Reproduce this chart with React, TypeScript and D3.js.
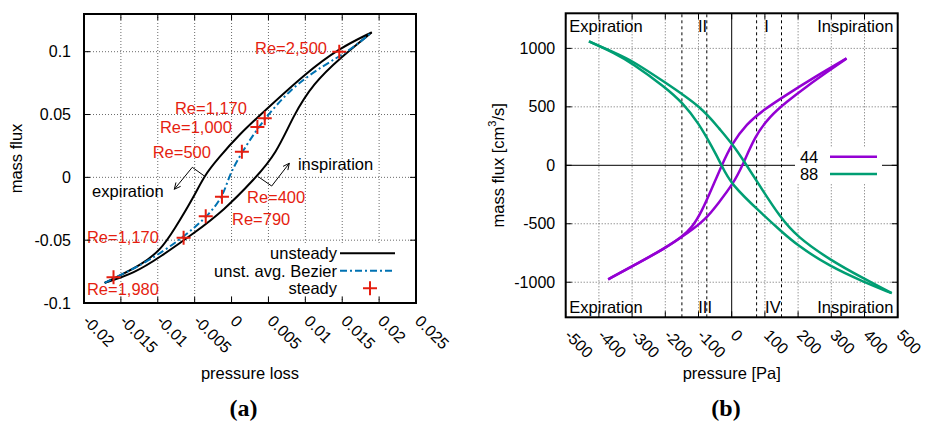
import React from 'react';
import * as d3 from 'd3';

// ---------- Panel (a) data ----------
const aXTicks = [-0.02, -0.015, -0.01, -0.005, 0, 0.005, 0.01, 0.015, 0.02, 0.025];
const aXTickLabels = ['-0.02', '-0.015', '-0.01', '-0.005', '0', '0.005', '0.01', '0.015', '0.02', '0.025'];
const aYTicks = [-0.1, -0.05, 0, 0.05, 0.1];
const aYTickLabels = ['-0.1', '-0.05', '0', '0.05', '0.1'];

const expirationX = [-0.0172, -0.015, -0.0123, -0.0096, -0.0078, -0.0051, -0.0037, -0.0019, 0.0011, 0.0045, 0.0102, 0.0146, 0.019];
const expirationY = [-0.084, -0.0777, -0.0698, -0.0578, -0.0419, -0.0154, 0.0013, 0.0146, 0.0345, 0.053, 0.0836, 0.1027, 0.1154];
const inspirationX = [-0.0172, -0.0132, -0.0096, -0.0051, -0.001, 0.003, 0.0061, 0.0084, 0.0111, 0.0147, 0.019];
const inspirationY = [-0.084, -0.0764, -0.0631, -0.0445, -0.026, -0.0021, 0.0191, 0.0496, 0.0748, 0.095, 0.1154];
const bezierX = [-0.0172, -0.0146, -0.011, -0.0064, -0.0028, -0.001, -0.0003, 0.0014, 0.0039, 0.0079, 0.0124, 0.016, 0.019];
const bezierY = [-0.084, -0.0764, -0.0658, -0.0472, -0.0286, -0.0127, 0.002, 0.02, 0.0425, 0.0703, 0.089, 0.1008, 0.1154];

const steadyX = [0.0146, 0.0045, 0.0035, 0.0014, -0.0013, -0.0035, -0.0065, -0.016];
const steadyY = [0.1, 0.047, 0.04, 0.0204, -0.0155, -0.031, -0.048, -0.0795];
const steadyLabels = ['Re=2,500', 'Re=1,170', 'Re=1,000', 'Re=500', 'Re=400', 'Re=790', 'Re=1,170', 'Re=1,980'];
const steadyLabelX = [0.01294, 0.00209, 0.00006, -0.00279, 0.00209, 0.00006, -0.0196, -0.0196];
const steadyLabelY = [0.1029, 0.0552, 0.0401, 0.0202, -0.0156, -0.0331, -0.0475, -0.0889];
const steadyLabelAnchor = ['end', 'end', 'end', 'end', 'start', 'start', 'start', 'start'];

const expArrowX = [-0.00374, -0.00532, -0.00776];
const expArrowY = [0.0013, 0.008, -0.0095];
const inspArrowX = [0.00362, 0.00544, 0.00783];
const inspArrowY = [0.0005, -0.0069, 0.0112];

const legendA = ['unsteady', 'unst. avg. Bezier', 'steady'];

// ---------- Panel (b) data ----------
const bXTicks = [-500, -400, -300, -200, -100, 0, 100, 200, 300, 400, 500];
const bXTickLabels = ['-500', '-400', '-300', '-200', '-100', '0', '100', '200', '300', '400', '500'];
const bYTicks = [-1000, -500, 0, 500, 1000];
const bYTickLabels = ['-1000', '-500', '0', '500', '1000'];
const bDashedX = [-150, -75, 75, 150];

const p44A = [-372, -301, -201, -150, -120, -90, -60, -30, 0, 45, 95, 166, 246, 346];
const q44A = [-975, -866, -709, -612, -535, -395, -200, 0, 182, 355, 472, 605, 748, 914];
const p44B = [-372, -301, -201, -130, -80, -40, 5, 33, 70, 115, 166, 226, 296, 346];
const q44B = [-975, -866, -712, -575, -467, -324, -155, 0, 250, 420, 545, 675, 815, 914];

const p88C = [-430, -350, -300, -201, -92, -35, 0, 35, 90, 145, 196, 296, 396, 482];
const q88C = [1060, 960, 895, 710, 500, 305, 188, 45, -200, -439, -610, -809, -966, -1094];
const p88D = [-430, -350, -301, -201, -146, -100, -60, -30, -5, 95, 145, 196, 296, 396, 482];
const q88D = [1060, 955, 874, 670, 530, 361, 162, 0, -154, -425, -553, -681, -866, -995, -1094];

const seriesB = ['44', '88'];
const colorsB = ['#9400d3', '#009e73'];

const regionLabels = ['Expiration', 'II', 'I', 'Inspiration', 'Expiration', 'III', 'IV', 'Inspiration'];
const regionLabelP = [-489, -88, 105, 487, -489, -80, 124, 487];
const regionLabelQ = [1193, 1193, 1193, 1193, -1209, -1209, -1209, -1209];
const regionLabelAnchor = ['start', 'middle', 'middle', 'end', 'start', 'middle', 'middle', 'end'];

const FONT = 'Liberation Sans, Arial, Helvetica, sans-serif';
const RED = '#e51e10';
const BLUE = '#0072b2';

function zip(xs: number[], ys: number[]): [number, number][] {
  return xs.map((x, i) => [x, ys[i]] as [number, number]);
}

export default function App() {
  // Panel (a) scales
  const ax = d3.scaleLinear().domain([-0.02, 0.025]).range([84, 416]);
  const ay = d3.scaleLinear().domain([-0.1, 0.13]).range([303, 14]);
  const aLine = d3.line<[number, number]>().x(d => ax(d[0])).y(d => ay(d[1])).curve(d3.curveBasis);
  const aPoly = d3.line<[number, number]>().x(d => ax(d[0])).y(d => ay(d[1]));

  // Panel (b) scales
  const bx = d3.scaleLinear().domain([-500, 500]).range([565.7, 897.7]);
  const by = d3.scaleLinear().domain([-1300, 1300]).range([317.3, 13.3]);
  const bLine = d3.line<[number, number]>().x(d => bx(d[0])).y(d => by(d[1])).curve(d3.curveBasis);

  const tickLen = 6;
  const gridStyle = { stroke: '#444', strokeWidth: 0.8, strokeDasharray: '1,2' };

  const aX0 = ax.range()[0], aX1 = ax.range()[1], aY0 = ay.range()[0], aY1 = ay.range()[1];
  const bX0 = bx.range()[0], bX1 = bx.range()[1], bY0 = by.range()[0], bY1 = by.range()[1];

  const arrowHead = (pts: [number, number][]) => {
    const n = pts.length;
    const [x2, y2] = [ax(pts[n - 1][0]), ay(pts[n - 1][1])];
    const [x1, y1] = [ax(pts[n - 2][0]), ay(pts[n - 2][1])];
    const ang = Math.atan2(y2 - y1, x2 - x1);
    const L = 7, W = 0.45;
    const p1 = [x2 - L * Math.cos(ang - W), y2 - L * Math.sin(ang - W)];
    const p2 = [x2 - L * Math.cos(ang + W), y2 - L * Math.sin(ang + W)];
    return `M${p1[0]},${p1[1]}L${x2},${y2}L${p2[0]},${p2[1]}`;
  };

  const plus = (cx: number, cy: number, key: string | number) => (
    <path key={key} d={`M${cx - 7},${cy}H${cx + 7}M${cx},${cy - 7}V${cy + 7}`} stroke={RED} strokeWidth={2} fill="none" />
  );

  return (
    <svg width={927} height={421} style={{ position: 'absolute', left: 0, top: 0, background: '#fff' }} fontFamily={FONT}>
      <rect x={0} y={0} width={927} height={421} fill="#fff" />
      {/* ================= Panel (a) ================= */}
      <g>
        {aXTicks.filter(t => t > -0.02 && t < 0.025).map((t, i) => (
          <line key={'agx' + i} x1={ax(t)} x2={ax(t)} y1={aY0} y2={aY1} {...gridStyle} />
        ))}
        {aYTicks.filter(t => t > -0.1).map((t, i) => (
          <line key={'agy' + i} x1={aX0} x2={aX1} y1={ay(t)} y2={ay(t)} {...gridStyle} />
        ))}
        {/* legend background */}
        <rect x={203} y={243} width={210} height={53} fill="#fff" />
        {/* curves */}
        <path d={aLine(zip(expirationX, expirationY)) || ''} fill="none" stroke="#000" strokeWidth={2} />
        <path d={aLine(zip(inspirationX, inspirationY)) || ''} fill="none" stroke="#000" strokeWidth={2} />
        <path d={aLine(zip(bezierX, bezierY)) || ''} fill="none" stroke={BLUE} strokeWidth={2} strokeDasharray="7,3,2,3" />
        {steadyX.map((x, i) => plus(ax(x), ay(steadyY[i]), 'st' + i))}
        {steadyLabels.map((s, i) => (
          <text key={'sl' + i} x={ax(steadyLabelX[i])} y={ay(steadyLabelY[i])} fill={RED} fontSize={16.5}
            textAnchor={steadyLabelAnchor[i] as any} dominantBaseline="central">{s}</text>
        ))}
        {/* annotation arrows */}
        <path d={aPoly(zip(expArrowX, expArrowY)) || ''} fill="none" stroke="#000" strokeWidth={1} />
        <path d={arrowHead(zip(expArrowX, expArrowY))} fill="none" stroke="#000" strokeWidth={1} />
        <path d={aPoly(zip(inspArrowX, inspArrowY)) || ''} fill="none" stroke="#000" strokeWidth={1} />
        <path d={arrowHead(zip(inspArrowX, inspArrowY))} fill="none" stroke="#000" strokeWidth={1} />
        <text x={ax(-0.0189)} y={ay(-0.0109)} fontSize={16.5} dominantBaseline="central">expiration</text>
        <text x={ax(0.009)} y={ay(0.0106)} fontSize={16.5} dominantBaseline="central">inspiration</text>
        {/* legend */}
        {legendA.map((s, i) => (
          <text key={'la' + i} x={337} y={253.3 + i * 17.5} fontSize={16.5} textAnchor="end" dominantBaseline="central">{s}</text>
        ))}
        <line x1={340} x2={395} y1={253.3} y2={253.3} stroke="#000" strokeWidth={2} />
        <line x1={340} x2={395} y1={270.8} y2={270.8} stroke={BLUE} strokeWidth={2} strokeDasharray="7,3,2,3" />
        {plus(370, 288.3, 'legplus')}
        {/* ticks */}
        {aXTicks.map((t, i) => (
          <g key={'atx' + i}>
            <line x1={ax(t)} x2={ax(t)} y1={aY0} y2={aY0 - tickLen} stroke="#000" />
            <line x1={ax(t)} x2={ax(t)} y1={aY1} y2={aY1 + tickLen} stroke="#000" />
            <text transform={`translate(${ax(t) - 2},${aY0 + 19}) rotate(45)`} fontSize={16}>{aXTickLabels[i]}</text>
          </g>
        ))}
        {aYTicks.map((t, i) => (
          <g key={'aty' + i}>
            <line x1={aX0} x2={aX0 + tickLen} y1={ay(t)} y2={ay(t)} stroke="#000" />
            <line x1={aX1} x2={aX1 - tickLen} y1={ay(t)} y2={ay(t)} stroke="#000" />
            <text x={aX0 - 13} y={ay(t)} fontSize={16} textAnchor="end" dominantBaseline="central">{aYTickLabels[i]}</text>
          </g>
        ))}
        <rect x={aX0} y={aY1} width={aX1 - aX0} height={aY0 - aY1} fill="none" stroke="#000" strokeWidth={2} />
        <text x={(aX0 + aX1) / 2} y={373} fontSize={16.5} textAnchor="middle" dominantBaseline="central">pressure loss</text>
        <text transform={`translate(15.7,${(aY0 + aY1) / 2}) rotate(-90)`} fontSize={16.5} textAnchor="middle" dominantBaseline="central">mass flux</text>
        <text x={243.5} y={408} fontSize={24} fontWeight="bold" fontFamily="Liberation Serif, Times New Roman, serif" textAnchor="middle" dominantBaseline="central">(a)</text>
      </g>

      {/* ================= Panel (b) ================= */}
      <g>
        {bXTicks.filter(t => t !== 0 && t > -500 && t < 500).map((t, i) => (
          <line key={'bgx' + i} x1={bx(t)} x2={bx(t)} y1={bY0} y2={bY1} {...gridStyle} />
        ))}
        {bYTicks.filter(t => t !== 0).map((t, i) => (
          <line key={'bgy' + i} x1={bX0} x2={bX1} y1={by(t)} y2={by(t)} {...gridStyle} />
        ))}
        {bDashedX.map((t, i) => (
          <line key={'bd' + i} x1={bx(t)} x2={bx(t)} y1={bY0} y2={bY1} stroke="#000" strokeWidth={1} strokeDasharray="3,3" />
        ))}
        <line x1={bx(0)} x2={bx(0)} y1={bY0} y2={bY1} stroke="#000" strokeWidth={1} />
        <line x1={bX0} x2={bX1} y1={by(0)} y2={by(0)} stroke="#000" strokeWidth={1} />
        {/* key background */}
        <rect x={795} y={147} width={87} height={37} fill="#fff" />
        {regionLabels.map((s, i) => (
          <text key={'rl' + i} x={bx(regionLabelP[i])} y={by(regionLabelQ[i])} fontSize={16.5}
            textAnchor={regionLabelAnchor[i] as any} dominantBaseline="central">{s}</text>
        ))}
        <path d={bLine(zip(p44A, q44A)) || ''} fill="none" stroke={colorsB[0]} strokeWidth={2.5} />
        <path d={bLine(zip(p44B, q44B)) || ''} fill="none" stroke={colorsB[0]} strokeWidth={2.5} />
        <path d={bLine(zip(p88C, q88C)) || ''} fill="none" stroke={colorsB[1]} strokeWidth={2.5} />
        <path d={bLine(zip(p88D, q88D)) || ''} fill="none" stroke={colorsB[1]} strokeWidth={2.5} />
        {seriesB.map((s, i) => (
          <g key={'kb' + i}>
            <text x={818.3} y={156.7 + i * 17.3} fontSize={16.5} textAnchor="end" dominantBaseline="central">{s}</text>
            <line x1={830} x2={877} y1={156.7 + i * 17.3} y2={156.7 + i * 17.3} stroke={colorsB[i]} strokeWidth={2.5} />
          </g>
        ))}
        {bXTicks.map((t, i) => (
          <g key={'btx' + i}>
            <line x1={bx(t)} x2={bx(t)} y1={bY0} y2={bY0 - tickLen} stroke="#000" />
            <line x1={bx(t)} x2={bx(t)} y1={bY1} y2={bY1 + tickLen} stroke="#000" />
            <text transform={`translate(${bx(t) - 2},${bY0 + 19}) rotate(45)`} fontSize={16}>{bXTickLabels[i]}</text>
          </g>
        ))}
        {bYTicks.map((t, i) => (
          <g key={'bty' + i}>
            <line x1={bX0} x2={bX0 + tickLen} y1={by(t)} y2={by(t)} stroke="#000" />
            <line x1={bX1} x2={bX1 - tickLen} y1={by(t)} y2={by(t)} stroke="#000" />
            <text x={bX0 - 10.5} y={by(t)} fontSize={16} textAnchor="end" dominantBaseline="central">{bYTickLabels[i]}</text>
          </g>
        ))}
        <rect x={bX0} y={bY1} width={bX1 - bX0} height={bY0 - bY1} fill="none" stroke="#000" strokeWidth={2} />
        <text x={(bX0 + bX1) / 2} y={373} fontSize={16.5} textAnchor="middle" dominantBaseline="central">pressure [Pa]</text>
        <text transform={`translate(498.3,${(bY0 + bY1) / 2}) rotate(-90)`} fontSize={16.5} textAnchor="middle" dominantBaseline="central">
          mass flux [cm<tspan baselineShift="super" fontSize={11}>3</tspan>/s]
        </text>
        <text x={726} y={408} fontSize={24} fontWeight="bold" fontFamily="Liberation Serif, Times New Roman, serif" textAnchor="middle" dominantBaseline="central">(b)</text>
      </g>
    </svg>
  );
}
